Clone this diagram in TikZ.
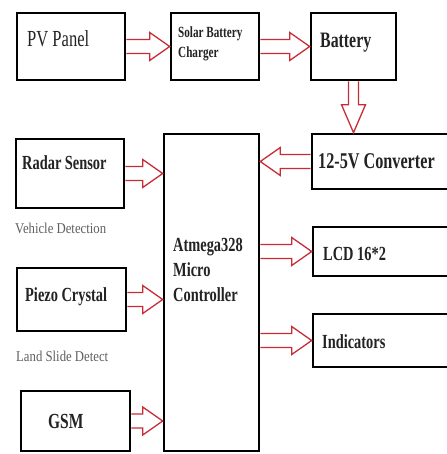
\documentclass[tikz,border=0pt]{standalone}
\usepackage{fontspec}
\setmainfont{Liberation Serif}[FakeStretch=0.72]
\newfontfamily\notefont{Liberation Serif}[FakeStretch=0.85]
\usetikzlibrary{calc}
\definecolor{flowred}{RGB}{200,45,55}
\definecolor{ink}{RGB}{35,35,35}
\definecolor{note}{RGB}{95,95,95}
\tikzset{
  box/.style={draw=black, line width=2.6pt, rectangle, inner sep=0pt},
  flow/.style={draw=flowred, line width=1.3pt, fill=white, line join=miter},
  txt/.style={inner sep=0pt, anchor=base west, text=ink, font=\bfseries\fontsize{20}{22}\selectfont},
  notetxt/.style={inner sep=0pt, anchor=base west, text=note, font=\notefont\fontsize{15}{18}\selectfont}
}
\newcommand\harr[2]{\draw[flow] let \p1=(#1), \p2=(#2), \n1={ifthenelse(\x2>\x1,1,-1)} in
  (\x1,{\y1+7pt}) -- ({\x2-\n1*20pt},{\y1+7pt}) -- ({\x2-\n1*20pt},{\y1+14pt}) -- (\x2,\y1)
  -- ({\x2-\n1*20pt},{\y1-14pt}) -- ({\x2-\n1*20pt},{\y1-7pt}) -- (\x1,{\y1-7pt});}
\newcommand\varr[2]{\draw[flow] let \p1=(#1), \p2=(#2) in
  ({\x1-5pt},\y1) -- ({\x1-5pt},{\y2+28pt}) -- ({\x1-12pt},{\y2+28pt}) -- (\x1,\y2)
  -- ({\x1+12pt},{\y2+28pt}) -- ({\x1+5pt},{\y2+28pt}) -- ({\x1+5pt},\y1);}
\begin{document}
\begin{tikzpicture}[x=1pt,y=-1pt]
\useasboundingbox[fill=white] (0,0) rectangle (446,454);
% boxes
\node[box, minimum width=108pt, minimum height=67pt] (pv) at (71,46.5) {};
\node[box, minimum width=88pt, minimum height=67pt] (chg) at (215,46.5) {};
\node[box, minimum width=85pt, minimum height=67pt] (bat) at (353.5,46.5) {};
\node[box, minimum width=148pt, minimum height=55pt] (conv) at (386,161.5) {};
\node[box, minimum width=108pt, minimum height=69pt] (radar) at (70,173.5) {};
\node[box, minimum width=95pt, minimum height=317pt] (mc) at (211.5,292.5) {};
\node[box, minimum width=147pt, minimum height=49pt] (lcd) at (386.5,251.5) {};
\node[box, minimum width=109pt, minimum height=63pt] (piezo) at (71.5,299.5) {};
\node[box, minimum width=147pt, minimum height=53pt] (ind) at (386.5,340.5) {};
\node[box, minimum width=109pt, minimum height=60pt] (gsm) at (75.5,421) {};
% texts
\node[txt, font=\fontsize{23}{25}\selectfont] (tpv) at (27,47) {PV Panel};
\node[txt, font=\bfseries\fontsize{15.5}{17}\selectfont] (tchg1) at (178,38) {Solar Battery};
\node[txt, font=\bfseries\fontsize{15.5}{17}\selectfont] (tchg2) at (178,58) {Charger};
\node[txt, font=\bfseries\fontsize{22}{24}\selectfont] (tbat) at (320,48) {Battery};
\node[txt, font=\bfseries\fontsize{22.5}{24}\selectfont] (tconv) at (318,169) {12-5V Converter};
\node[txt] (tradar) at (22,170) {Radar Sensor};
\node[notetxt] (tveh) at (15,233) {Vehicle Detection};
\node[txt] (tmc1) at (173,251) {Atmega328};
\node[txt] (tmc2) at (173,276) {Micro};
\node[txt] (tmc3) at (173,301) {Controller};
\node[txt] (tlcd) at (323,260) {LCD 16*2};
\node[txt] (tpiezo) at (25,301) {Piezo Crystal};
\node[notetxt] (tland) at (16,361) {Land Slide Detect};
\node[txt] (tind) at (322,348) {Indicators};
\node[txt, font=\bfseries\fontsize{21.5}{23}\selectfont] (tgsm) at (48,428) {GSM};
% arrows
\harr{pv.east}{chg.west}
\harr{chg.east}{bat.west}
\varr{bat.south}{bat.south |- conv.north}
\harr{conv.west}{mc.east |- conv.west}
\harr{radar.east}{radar.east -| mc.west}
\harr{piezo.east}{piezo.east -| mc.west}
\harr{gsm.east}{gsm.east -| mc.west}
\harr{mc.east |- lcd.west}{lcd.west}
\harr{mc.east |- ind.west}{ind.west}
\end{tikzpicture}
\end{document}
